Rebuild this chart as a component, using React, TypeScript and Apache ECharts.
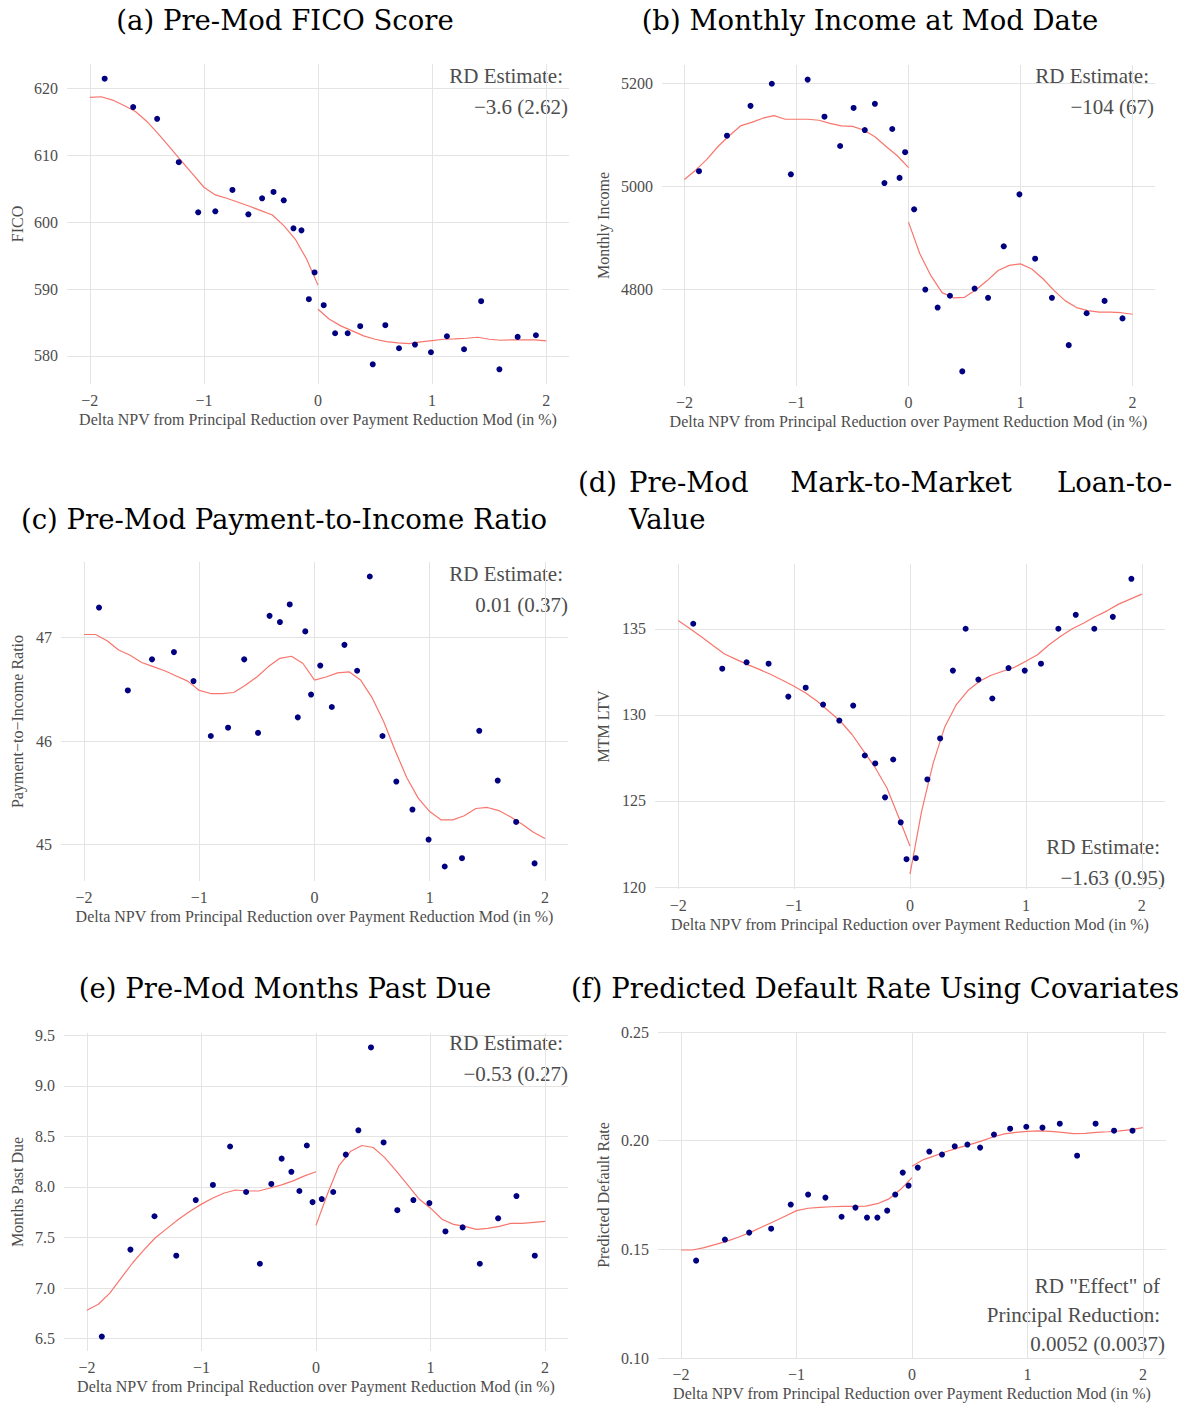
import React, { useEffect, useRef } from "react";
import * as echarts from "echarts";

// Shared bin centers (x) for scatter points
const binX = [-1.87, -1.62, -1.41, -1.22, -1.05, -0.9, -0.75, -0.61, -0.49, -0.39, -0.3, -0.215, -0.145, -0.08, -0.03, 0.05, 0.15, 0.26, 0.37, 0.48, 0.59, 0.71, 0.85, 0.99, 1.13, 1.28, 1.43, 1.59, 1.75, 1.91];
// x positions of the fitted curves
const fitLeftX = [-2, -1.9, -1.8, -1.7, -1.6, -1.5, -1.4, -1.3, -1.2, -1.1, -1, -0.9, -0.8, -0.7, -0.6, -0.5, -0.4, -0.3, -0.2, -0.1, 0];
const fitRightX = [0, 0.1, 0.2, 0.3, 0.4, 0.5, 0.6, 0.7, 0.8, 0.9, 1, 1.1, 1.2, 1.3, 1.4, 1.5, 1.6, 1.7, 1.8, 1.9, 2];
const xTicks = [-2, -1, 0, 1, 2];

// (a) FICO
const ficoY = [621.5, 617.25, 615.5, 609, 601.5, 601.65, 604.85, 601.2, 603.6, 604.55, 603.3, 599.1, 598.8, 588.5, 592.5, 587.6, 583.4, 583.4, 584.45, 578.75, 584.6, 581.15, 581.7, 580.55, 582.95, 581.0, 588.2, 578.0, 582.85, 583.1];
const ficoFitL = [618.7, 618.8, 618.3, 617.5, 616.6, 615.1, 613.25, 611.25, 609.25, 607.25, 605.25, 604.1, 603.6, 603.0, 602.4, 601.75, 601.1, 599.5, 597.5, 594.5, 590.6];
const ficoFitR = [587.0, 585.5, 584.5, 583.75, 583.0, 582.5, 582.15, 581.95, 581.85, 582.1, 582.3, 582.5, 582.55, 582.65, 582.8, 582.5, 582.35, 582.4, 582.4, 582.4, 582.25];
const ficoTicks = [580, 590, 600, 610, 620];

// (b) Monthly income
const incomeY = [5029, 5098, 5156, 5199, 5023, 5207, 5135, 5078, 5152, 5109, 5160, 5006, 5111, 5016, 5066, 4955, 4799, 4764, 4787, 4640, 4801, 4783, 4883, 4984, 4859, 4783, 4691, 4753, 4777, 4743];
const incomeFitL = [5013, 5031, 5052, 5077, 5098, 5117, 5124, 5132, 5137, 5130, 5130, 5130, 5128, 5122, 5117, 5116, 5109, 5096, 5077, 5059, 5036];
const incomeFitR = [4930, 4869, 4826, 4793, 4783, 4784, 4798, 4816, 4836, 4846, 4849, 4839, 4820, 4797, 4777, 4764, 4758, 4755, 4755, 4754, 4751];
const incomeTicks = [4800, 5000, 5200];

// (c) Payment-to-income
const ptiY = [47.29, 46.49, 46.79, 46.86, 46.58, 46.05, 46.13, 46.79, 46.08, 47.21, 47.15, 47.32, 46.23, 47.06, 46.45, 46.73, 46.33, 46.93, 46.68, 47.59, 46.05, 45.61, 45.34, 45.05, 44.79, 44.87, 46.1, 45.62, 45.22, 44.82];
const ptiFitL = [47.03, 47.03, 46.97, 46.88, 46.83, 46.76, 46.72, 46.68, 46.63, 46.58, 46.49, 46.46, 46.46, 46.47, 46.54, 46.62, 46.72, 46.8, 46.82, 46.75, 46.59];
const ptiFitR = [46.59, 46.62, 46.66, 46.67, 46.59, 46.42, 46.19, 45.91, 45.65, 45.45, 45.32, 45.24, 45.24, 45.28, 45.35, 45.36, 45.33, 45.27, 45.2, 45.12, 45.06];
const ptiTicks = [45, 46, 47];

// (d) MTM LTV
const ltvY = [135.29, 132.68, 133.05, 132.97, 131.06, 131.58, 130.6, 129.67, 130.54, 127.64, 127.18, 125.21, 127.41, 123.76, 121.62, 121.68, 126.25, 128.63, 132.57, 135.0, 132.05, 130.95, 132.72, 132.57, 132.97, 135.0, 135.81, 135.0, 135.69, 137.9];
const ltvFitL = [135.48, 135.02, 134.54, 134.03, 133.53, 133.22, 132.92, 132.64, 132.34, 132.01, 131.66, 131.27, 130.79, 130.21, 129.63, 128.86, 127.9, 126.93, 125.77, 124.1, 122.39];
const ltvFitR = [120.75, 124.4, 127.2, 129.3, 130.6, 131.41, 131.95, 132.3, 132.53, 132.76, 133.11, 133.49, 134.07, 134.56, 135.0, 135.33, 135.71, 136.04, 136.43, 136.72, 137.01];
const ltvTicks = [120, 125, 130, 135];

// (e) Months past due
const mpdY = [6.52, 7.38, 7.71, 7.32, 7.87, 8.02, 8.4, 7.95, 7.24, 8.03, 8.28, 8.15, 7.96, 8.41, 7.85, 7.88, 7.95, 8.32, 8.56, 9.38, 8.44, 7.77, 7.87, 7.84, 7.56, 7.6, 7.24, 7.69, 7.91, 7.32];
const mpdFitL = [6.78, 6.84, 6.95, 7.1, 7.25, 7.38, 7.5, 7.59, 7.68, 7.76, 7.83, 7.89, 7.94, 7.97, 7.96, 7.96, 7.99, 8.02, 8.06, 8.11, 8.15];
const mpdFitR = [7.62, 7.93, 8.21, 8.35, 8.41, 8.39, 8.29, 8.16, 8.02, 7.88, 7.79, 7.68, 7.63, 7.61, 7.58, 7.59, 7.61, 7.64, 7.64, 7.65, 7.66];
const mpdTicks = [6.5, 7, 7.5, 8, 8.5, 9, 9.5];

// (f) Predicted default rate
const defY = [0.1448, 0.1545, 0.1577, 0.1595, 0.1706, 0.1752, 0.1738, 0.165, 0.1692, 0.1646, 0.1646, 0.1678, 0.1752, 0.1853, 0.1793, 0.1876, 0.195, 0.1936, 0.1974, 0.1982, 0.1968, 0.2028, 0.2055, 0.2064, 0.206, 0.2078, 0.1931, 0.2078, 0.2046, 0.2046];
const defFitL = [0.1497, 0.1497, 0.1508, 0.1523, 0.1538, 0.1557, 0.1578, 0.1603, 0.1627, 0.1652, 0.1678, 0.1689, 0.1693, 0.1696, 0.1698, 0.1698, 0.1699, 0.171, 0.1732, 0.1775, 0.183];
const defFitR = [0.1882, 0.1913, 0.1931, 0.195, 0.1967, 0.1982, 0.1998, 0.2017, 0.2031, 0.2038, 0.2043, 0.2045, 0.2043, 0.2038, 0.2032, 0.2034, 0.2038, 0.2041, 0.2045, 0.2051, 0.206];
const defTicks = [0.1, 0.15, 0.2, 0.25];

const X_TITLE = "Delta NPV from Principal Reduction over Payment Reduction Mod (in %)";
const MINUS = "\u2212";

const TITLE_FONT = "27.5px 'DejaVu Serif'";
const SERIF = "Liberation Serif";
const GRAY = "#4d4d4d";

const panels = [
  {
    yName: "FICO", y: ficoY, fitL: ficoFitL, fitR: ficoFitR, yTicks: ficoTicks, yMin: 575.8, yMax: 623.7, dec: 0,
    grid: { left: 67, top: 64, width: 502, height: 320 }, yNameX: 17,
    notes: [["RD Estimate:", 563, 76], [MINUS + "3.6 (2.62)", 568, 107]],
  },
  {
    yName: "Monthly Income", y: incomeY, fitL: incomeFitL, fitR: incomeFitR, yTicks: incomeTicks, yMin: 4611.6, yMax: 5235.4, dec: 0,
    grid: { left: 662, top: 65, width: 493, height: 321 }, yNameX: 603,
    notes: [["RD Estimate:", 1149, 76], [MINUS + "104 (67)", 1154, 107]],
  },
  {
    yName: "Payment\u2212to\u2212Income Ratio", y: ptiY, fitL: ptiFitL, fitR: ptiFitR, yTicks: ptiTicks, yMin: 44.65, yMax: 47.73, dec: 0,
    grid: { left: 61, top: 562, width: 507, height: 319 }, yNameX: 17,
    notes: [["RD Estimate:", 563, 574], ["0.01 (0.37)", 568, 605]],
  },
  {
    yName: "MTM LTV", y: ltvY, fitL: ltvFitL, fitR: ltvFitR, yTicks: ltvTicks, yMin: 119.89, yMax: 138.76, dec: 0,
    grid: { left: 655, top: 564, width: 510, height: 325 }, yNameX: 603,
    notes: [["RD Estimate:", 1160, 847], [MINUS + "1.63 (0.95)", 1165, 878]],
  },
  {
    yName: "Months Past Due", y: mpdY, fitL: mpdFitL, fitR: mpdFitR, yTicks: mpdTicks, yMin: 6.377, yMax: 9.523, dec: 1,
    grid: { left: 64, top: 1033, width: 504, height: 318 }, yNameX: 17,
    notes: [["RD Estimate:", 563, 1043], [MINUS + "0.53 (0.27)", 568, 1074]],
  },
  {
    yName: "Predicted Default Rate", y: defY, fitL: defFitL, fitR: defFitR, yTicks: defTicks, yMin: 0.1, yMax: 0.25, dec: 2,
    grid: { left: 658, top: 1032, width: 508, height: 326 }, yNameX: 603,
    notes: [["RD \"Effect\" of", 1160, 1286], ["Principal Reduction:", 1160, 1315], ["0.0052 (0.0037)", 1165, 1344]],
  },
];

const titles = [
  ["(a) Pre-Mod FICO Score", 285, 20, "center"],
  ["(b) Monthly Income at Mod Date", 870, 20, "center"],
  ["(c) Pre-Mod Payment-to-Income Ratio", 284, 519, "center"],
  ["(d)", 578, 482, "left"],
  ["Pre-Mod", 629, 482, "left"],
  ["Mark-to-Market", 901, 482, "center"],
  ["Loan-to-", 1172, 482, "right"],
  ["Value", 629, 519, "left"],
  ["(e) Pre-Mod Months Past Due", 285, 988, "center"],
  ["(f) Predicted Default Rate Using Covariates", 875, 988, "center"],
];

function txt(text: string, x: number, y: number, align: string, font: string, fill: string, rotation = 0) {
  return {
    type: "text",
    x, y, rotation,
    silent: true,
    style: { text, font, fill, align, verticalAlign: "middle", textAlign: align, textVerticalAlign: "middle" },
  };
}

export default function App() {
  const ref = useRef<HTMLDivElement>(null);
  useEffect(() => {
    document.body.style.margin = "0";
    const chart = echarts.init(ref.current!, null, { renderer: "svg" });
    const grids: any[] = [];
    const xAxes: any[] = [];
    const yAxes: any[] = [];
    const series: any[] = [];
    const graphic: any[] = [];
    const splitLine = { show: true, lineStyle: { color: "#e4e4e4", width: 1 } };
    panels.forEach((p, i) => {
      grids.push({ ...p.grid, containLabel: false });
      xAxes.push({
        type: "value", gridIndex: i, min: -2.2, max: 2.2,
        axisLine: { show: false },
        axisTick: { show: false, customValues: xTicks },
        axisLabel: {
          customValues: xTicks, margin: 8, color: GRAY, fontSize: 16, fontFamily: SERIF,
          formatter: (v: number) => (v < 0 ? MINUS + Math.abs(v) : String(v)),
        },
        splitLine,
      });
      yAxes.push({
        type: "value", gridIndex: i, min: p.yMin, max: p.yMax,
        axisLine: { show: false },
        axisTick: { show: false, customValues: p.yTicks },
        axisLabel: {
          customValues: p.yTicks, margin: 9, color: GRAY, fontSize: 16, fontFamily: SERIF,
          formatter: (v: number) => v.toFixed(p.dec),
        },
        splitLine,
      });
      series.push({
        type: "line", xAxisIndex: i, yAxisIndex: i, showSymbol: false, symbol: "none",
        data: fitLeftX.map((x, k) => [x, p.fitL[k]]),
        lineStyle: { color: "#F8766D", width: 1.2 }, z: 2,
      });
      series.push({
        type: "line", xAxisIndex: i, yAxisIndex: i, showSymbol: false, symbol: "none",
        data: fitRightX.map((x, k) => [x, p.fitR[k]]),
        lineStyle: { color: "#F8766D", width: 1.2 }, z: 2,
      });
      series.push({
        type: "scatter", xAxisIndex: i, yAxisIndex: i, symbol: "circle", symbolSize: 6,
        data: binX.map((x, k) => [x, p.y[k]]),
        itemStyle: { color: "#000080", opacity: 1 }, z: 3,
      });
      const g = p.grid;
      graphic.push(txt(X_TITLE, g.left + g.width / 2, g.top + g.height + 35, "center", "16px '" + SERIF + "'", GRAY));
      graphic.push(txt(p.yName, p.yNameX, g.top + g.height / 2, "center", "16px '" + SERIF + "'", GRAY, Math.PI / 2));
      p.notes.forEach((n: any) => graphic.push(txt(n[0], n[1], n[2], "right", "21px '" + SERIF + "'", GRAY)));
    });
    titles.forEach((t: any) => graphic.push(txt(t[0], t[1], t[2], t[3], TITLE_FONT, "#000")));
    chart.setOption({
      animation: false,
      backgroundColor: "#fff",
      grid: grids,
      xAxis: xAxes,
      yAxis: yAxes,
      series,
      graphic,
    });
    return () => chart.dispose();
  }, []);
  return <div ref={ref} style={{ width: 1185, height: 1406 }} />;
}
